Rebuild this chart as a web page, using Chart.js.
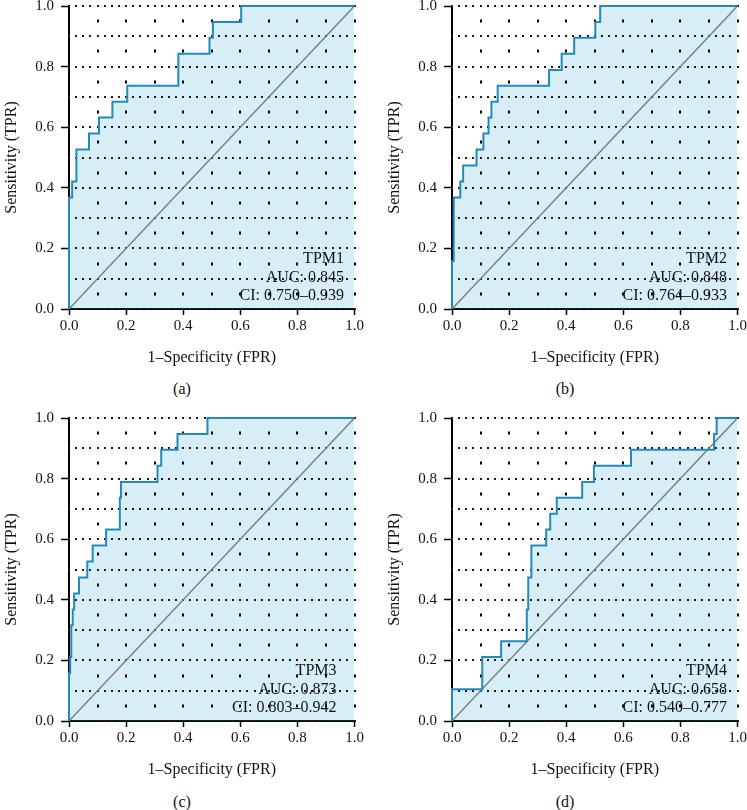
<!DOCTYPE html>
<html>
<head>
<meta charset="utf-8">
<script src="https://cdn.jsdelivr.net/npm/chart.js@4.4.0/dist/chart.umd.min.js"></script>
<style>
	body { margin: 0; background: #fff; width: 747px; height: 810px; position: relative; overflow: hidden; font-family: "Liberation Serif", serif; }
	.panel { position: absolute; width: 373px; height: 380px; }
	.cap { position: absolute; width: 40px; margin-left: -20px; text-align: center; font-size: 16px; line-height: 18px; color: #111; }
</style>
</head>
<body>
<div class="panel" style="left:0px;top:-10px"><canvas id="roc1" width="373" height="380"></canvas></div>
<div class="panel" style="left:383px;top:-10px"><canvas id="roc2" width="373" height="380"></canvas></div>
<div class="panel" style="left:0px;top:402px"><canvas id="roc3" width="373" height="380"></canvas></div>
<div class="panel" style="left:383px;top:402px"><canvas id="roc4" width="373" height="380"></canvas></div>
<div class="cap" style="left:182px;top:380px">(a)</div>
<div class="cap" style="left:565px;top:380px">(b)</div>
<div class="cap" style="left:182px;top:793px">(c)</div>
<div class="cap" style="left:565px;top:793px">(d)</div>
<script>
// ROC points (FPR, TPR)
const fpr1 = [0, 0, 0.011, 0.026, 0.070, 0.105, 0.152, 0.204, 0.383, 0.492, 0.504, 0.603, 1.0];
const tpr1 = [0, 0.368, 0.421, 0.526, 0.579, 0.632, 0.684, 0.737, 0.842, 0.895, 0.947, 1.0, 1.0];

const fpr2 = [0, 0, 0.006, 0.029, 0.039, 0.086, 0.110, 0.128, 0.138, 0.160, 0.340, 0.384, 0.428, 0.502, 0.519, 1.0];
const tpr2 = [0, 0.158, 0.368, 0.421, 0.474, 0.526, 0.579, 0.632, 0.684, 0.737, 0.789, 0.842, 0.895, 0.947, 1.0, 1.0];

const fpr3 = [0, 0, 0.004, 0.008, 0.013, 0.018, 0.035, 0.064, 0.083, 0.130, 0.178, 0.182, 0.310, 0.323, 0.380, 0.485, 1.0];
const tpr3 = [0, 0.158, 0.211, 0.316, 0.368, 0.421, 0.474, 0.526, 0.579, 0.632, 0.737, 0.789, 0.842, 0.895, 0.947, 1.0, 1.0];

const fpr4 = [0, 0, 0.106, 0.172, 0.262, 0.267, 0.278, 0.330, 0.344, 0.367, 0.456, 0.497, 0.627, 0.918, 0.927, 1.0];
const tpr4 = [0, 0.105, 0.211, 0.263, 0.368, 0.474, 0.579, 0.632, 0.684, 0.737, 0.789, 0.842, 0.895, 0.947, 1.0, 1.0];

const diagX = [0, 1];
const diagY = [0, 1];

const markers = ["TPM1", "TPM2", "TPM3", "TPM4"];
const aucs = ["0.845", "0.848", "0.873", "0.658"];
const cis = ["0.750\u20130.939", "0.764\u20130.933", "0.803\u20130.942", "0.540\u20130.777"];
const tickLabels = ["0.0", "0.2", "0.4", "0.6", "0.8", "1.0"];

const serif = "'Liberation Serif', 'DejaVu Serif', serif";

function points(xs, ys) {
	return xs.map(function(x, i) { return {x: x, y: ys[i]}; });
}

function tickText(value, index) {
	return tickLabels[index];
}

// dotted grid every 0.1, placed with the chart's own scales
const dotGrid = {
	id: "dotGrid",
	beforeDatasetsDraw(chart) {
		const ctx = chart.ctx;
		const sx = chart.scales.x;
		const sy = chart.scales.y;
		ctx.save();
		ctx.fillStyle = "#1a1a1a";
		for (let i = 0; i <= 10; i++) {
			const gy = Math.round(sy.getPixelForValue(i / 10));
			for (let j = 0; j <= 40; j++) {
				ctx.fillRect(Math.round(sx.getPixelForValue(j / 40)) - 1, gy - 1, 2, 2);
			}
		}
		ctx.fillStyle = "#000";
		for (let i = 0; i <= 10; i++) {
			const gx = Math.round(sx.getPixelForValue(i / 10));
			for (let j = 1; j <= 20; j += 2) {
				ctx.fillRect(gx - 1, Math.round(sy.getPixelForValue(j / 20)) - 1.5, 2, 3);
			}
		}
		ctx.restore();
	}
};

function aucText(idx, rightGap) {
	return {
		id: "aucText" + idx,
		afterDatasetsDraw(chart) {
			const ctx = chart.ctx;
			const area = chart.chartArea;
			const x = area.right - rightGap;
			ctx.save();
			ctx.fillStyle = "#111";
			ctx.font = "16px " + serif;
			ctx.textAlign = "right";
			ctx.textBaseline = "middle";
			ctx.fillText(markers[idx], x, area.bottom - 50);
			ctx.fillText("AUC: " + aucs[idx], x, area.bottom - 31.5);
			ctx.fillText("CI: " + cis[idx], x, area.bottom - 13);
			ctx.restore();
		}
	};
}

function createRocChart(id, xs, ys, idx, rightGap) {
	const canvas = document.getElementById(id);
	const options = {
		type: "line",
		data: {
			datasets: [{
				data: points(xs, ys),
				stepped: true,
				borderColor: "#2389bb",
				borderWidth: 2,
				backgroundColor: "rgba(60, 170, 210, 0.2)",
				fill: "origin",
				pointRadius: 0,
				clip: 4,
				order: 1
			}, {
				data: points(diagX, diagY),
				borderColor: "#7d7d7d",
				borderWidth: 1.5,
				fill: false,
				pointRadius: 0,
				order: 2
			}]
		},
		options: {
			responsive: false,
			animation: false,
			layout: {
				padding: {top: 15, right: 18.5, bottom: 0, left: 0}
			},
			scales: {
				x: {
					type: "linear",
					min: 0,
					max: 1,
					afterFit: function(scale) { scale.height = 61; },
					ticks: {
						stepSize: 0.2,
						autoSkip: false,
						maxRotation: 0,
						padding: 2,
						color: "#111",
						font: {family: serif, size: 15},
						callback: tickText
					},
					grid: {
						drawOnChartArea: false,
						tickLength: 6,
						tickWidth: 1.5,
						tickColor: "#000"
					},
					border: {color: "#000", width: 2},
					title: {
						display: true,
						text: "1\u2013Specificity (FPR)",
						color: "#111",
						font: {family: serif, size: 16},
						padding: {top: 0, bottom: 2.4}
					}
				},
				y: {
					min: 0,
					max: 1,
					afterFit: function(scale) { scale.width = 69; },
					ticks: {
						stepSize: 0.2,
						autoSkip: false,
						padding: 7,
						color: "#111",
						font: {family: serif, size: 15},
						callback: tickText
					},
					grid: {
						drawOnChartArea: false,
						tickLength: 8,
						tickWidth: 1.5,
						tickColor: "#000"
					},
					border: {color: "#000", width: 2},
					title: {
						display: true,
						text: "Sensitivity (TPR)",
						color: "#111",
						font: {family: serif, size: 16},
						padding: {top: 2.4, bottom: 0}
					}
				}
			},
			plugins: {
				legend: {display: false},
				tooltip: {enabled: false},
				filler: {drawTime: "beforeDatasetsDraw"}
			}
		},
		plugins: [dotGrid, aucText(idx, rightGap)]
	};
	return new Chart(canvas.getContext("2d"), options);
}

createRocChart("roc1", fpr1, tpr1, 0, 10.5);
createRocChart("roc2", fpr2, tpr2, 1, 10.5);
createRocChart("roc3", fpr3, tpr3, 2, 18);
createRocChart("roc4", fpr4, tpr4, 3, 10.5);
</script>
</body>
</html>
